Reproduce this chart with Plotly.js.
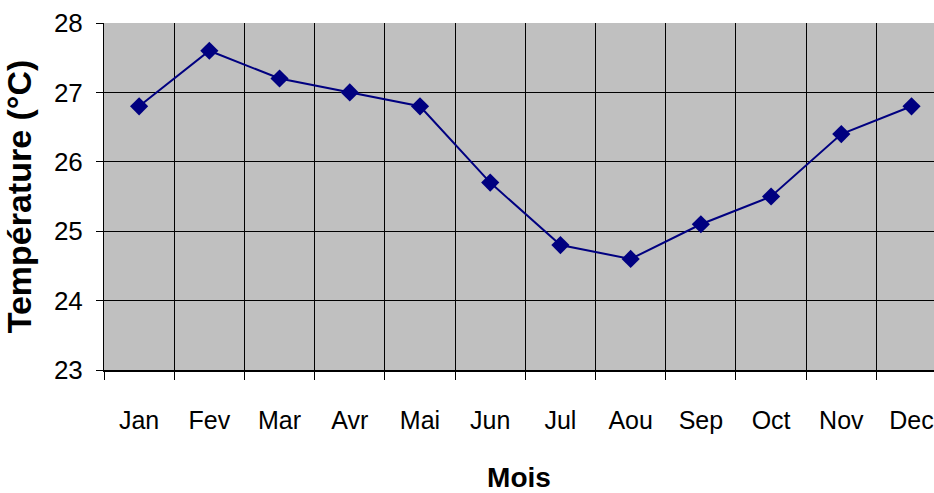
<!DOCTYPE html>
<html>
<head>
<meta charset="utf-8">
<script src="https://cdn.plot.ly/plotly-3.0.1.min.js"></script>
<style>html,body{margin:0;padding:0;background:#fff;}#chart{width:934px;height:493px;}</style>
</head>
<body>
<div id="chart"></div>
<script>
const months = ["Jan","Fev","Mar","Avr","Mai","Jun","Jul","Aou","Sep","Oct","Nov","Dec"];
const temperature = [26.8, 27.6, 27.2, 27.0, 26.8, 25.7, 24.8, 24.6, 25.1, 25.5, 26.4, 26.8];
const yTicks = [23, 24, 25, 26, 27, 28];

const FONT = "Liberation Sans, Arial, sans-serif";

const trace = {
  x: months,
  y: temperature,
  type: "scatter",
  mode: "lines+markers",
  line: {color: "#000080", width: 2},
  marker: {symbol: "diamond", size: 14, color: "#000080"},
  hoverinfo: "x+y"
};

const layout = {
  width: 934,
  height: 493,
  margin: {l: 104, r: 0, t: 23, b: 123},
  paper_bgcolor: "#ffffff",
  plot_bgcolor: "#c0c0c0",
  showlegend: false,
  font: {family: FONT, color: "#000"},
  xaxis: {
    type: "category",
    categoryarray: months,
    range: [-0.5, 11.32],
    tickson: "boundaries",
    ticks: "outside",
    ticklen: 8,
    tickcolor: "#000",
    tickwidth: 1,
    showgrid: true,
    gridcolor: "#000",
    gridwidth: 1,
    showline: true,
    linecolor: "#000",
    linewidth: 2,
    zeroline: false,
    tickfont: {family: FONT, size: 25, color: "#000"},
    ticklabelstandoff: 27,
    title: {text: "Mois", font: {family: FONT, size: 28, color: "#000", weight: "bold"}, standoff: 34}
  },
  yaxis: {
    range: [23, 28],
    tickvals: yTicks,
    ticktext: yTicks.map(String),
    ticks: "outside",
    ticklen: 7,
    tickcolor: "#000",
    tickwidth: 1,
    showgrid: true,
    gridcolor: "#000",
    gridwidth: 1,
    showline: true,
    linecolor: "#000",
    linewidth: 1,
    zeroline: false,
    tickfont: {family: FONT, size: 26, color: "#000"},
    ticklabelstandoff: 8,
    title: {text: "Température (°C)", font: {family: FONT, size: 34, color: "#000", weight: "bold"}, standoff: 12}
  }
};

Plotly.newPlot("chart", [trace], layout, {displayModeBar: false, staticPlot: true});
</script>
</body>
</html>
